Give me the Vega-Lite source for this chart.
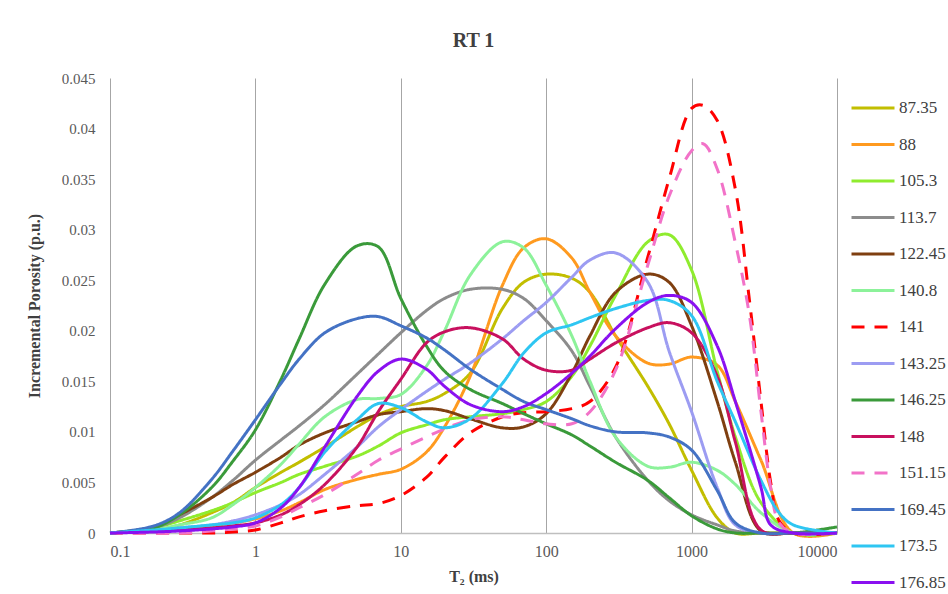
{
"$schema": "https://vega.github.io/schema/vega-lite/v6.json",
"width": 727, "height": 455,
"autosize": {"type": "none"},
"padding": {"left": 110, "top": 78, "right": 111, "bottom": 61},
"background": "white",
"title": {"text": "RT 1", "font": "Liberation Serif", "fontSize": 20, "fontWeight": "bold", "color": "#404040", "offset": 20, "anchor": "middle"},
"config": {"view": {"stroke": null}, "font": "Liberation Serif"},
"data": {"values": [
{"s":"87.35","t":0.1,"v":0},{"s":"87.35","t":0.2,"v":0.0003},{"s":"87.35","t":0.3,"v":0.0008},{"s":"87.35","t":0.5,"v":0.002},{"s":"87.35","t":0.7,"v":0.003},{"s":"87.35","t":1,"v":0.0045},{"s":"87.35","t":1.5,"v":0.006},{"s":"87.35","t":2,"v":0.007},{"s":"87.35","t":3,"v":0.0085},{"s":"87.35","t":5,"v":0.0105},{"s":"87.35","t":7,"v":0.0117},{"s":"87.35","t":10,"v":0.0125},{"s":"87.35","t":15,"v":0.013},{"s":"87.35","t":20,"v":0.0138},{"s":"87.35","t":30,"v":0.0158},{"s":"87.35","t":50,"v":0.0222},{"s":"87.35","t":70,"v":0.0248},{"s":"87.35","t":100,"v":0.0256},{"s":"87.35","t":150,"v":0.0252},{"s":"87.35","t":200,"v":0.0238},{"s":"87.35","t":300,"v":0.0195},{"s":"87.35","t":500,"v":0.0145},{"s":"87.35","t":700,"v":0.0108},{"s":"87.35","t":1000,"v":0.0062},{"s":"87.35","t":1500,"v":0.0015},{"s":"87.35","t":2000,"v":0},{"s":"87.35","t":3000,"v":0},{"s":"87.35","t":5000,"v":0},{"s":"87.35","t":10000,"v":0},
{"s":"88","t":0.1,"v":0},{"s":"88","t":0.2,"v":0.0002},{"s":"88","t":0.3,"v":0.0004},{"s":"88","t":0.5,"v":0.0007},{"s":"88","t":0.7,"v":0.001},{"s":"88","t":1,"v":0.0014},{"s":"88","t":1.5,"v":0.0022},{"s":"88","t":2,"v":0.003},{"s":"88","t":3,"v":0.0043},{"s":"88","t":5,"v":0.0053},{"s":"88","t":7,"v":0.0058},{"s":"88","t":10,"v":0.0063},{"s":"88","t":15,"v":0.008},{"s":"88","t":20,"v":0.0105},{"s":"88","t":30,"v":0.0155},{"s":"88","t":50,"v":0.0245},{"s":"88","t":70,"v":0.0282},{"s":"88","t":100,"v":0.0291},{"s":"88","t":150,"v":0.0272},{"s":"88","t":200,"v":0.0238},{"s":"88","t":300,"v":0.0195},{"s":"88","t":500,"v":0.0168},{"s":"88","t":700,"v":0.0167},{"s":"88","t":1000,"v":0.0174},{"s":"88","t":1500,"v":0.0166},{"s":"88","t":2000,"v":0.013},{"s":"88","t":3000,"v":0.0072},{"s":"88","t":5000,"v":0},{"s":"88","t":10000,"v":0},
{"s":"105.3","t":0.1,"v":0},{"s":"105.3","t":0.2,"v":0.0005},{"s":"105.3","t":0.3,"v":0.0012},{"s":"105.3","t":0.5,"v":0.0022},{"s":"105.3","t":0.7,"v":0.003},{"s":"105.3","t":1,"v":0.004},{"s":"105.3","t":1.5,"v":0.005},{"s":"105.3","t":2,"v":0.0058},{"s":"105.3","t":3,"v":0.0066},{"s":"105.3","t":5,"v":0.0076},{"s":"105.3","t":7,"v":0.0086},{"s":"105.3","t":10,"v":0.0099},{"s":"105.3","t":15,"v":0.0107},{"s":"105.3","t":20,"v":0.0112},{"s":"105.3","t":30,"v":0.0115},{"s":"105.3","t":50,"v":0.0118},{"s":"105.3","t":70,"v":0.0122},{"s":"105.3","t":100,"v":0.013},{"s":"105.3","t":150,"v":0.0155},{"s":"105.3","t":200,"v":0.0185},{"s":"105.3","t":300,"v":0.0235},{"s":"105.3","t":500,"v":0.0288},{"s":"105.3","t":700,"v":0.0295},{"s":"105.3","t":1000,"v":0.026},{"s":"105.3","t":1500,"v":0.016},{"s":"105.3","t":2000,"v":0.0095},{"s":"105.3","t":3000,"v":0.003},{"s":"105.3","t":5000,"v":0},{"s":"105.3","t":10000,"v":0},
{"s":"113.7","t":0.1,"v":0},{"s":"113.7","t":0.2,"v":0.0005},{"s":"113.7","t":0.3,"v":0.0015},{"s":"113.7","t":0.5,"v":0.0035},{"s":"113.7","t":0.7,"v":0.0052},{"s":"113.7","t":1,"v":0.0072},{"s":"113.7","t":1.5,"v":0.0092},{"s":"113.7","t":2,"v":0.0106},{"s":"113.7","t":3,"v":0.0127},{"s":"113.7","t":5,"v":0.0157},{"s":"113.7","t":7,"v":0.0177},{"s":"113.7","t":10,"v":0.0198},{"s":"113.7","t":15,"v":0.022},{"s":"113.7","t":20,"v":0.0232},{"s":"113.7","t":30,"v":0.0241},{"s":"113.7","t":50,"v":0.0241},{"s":"113.7","t":70,"v":0.0232},{"s":"113.7","t":100,"v":0.021},{"s":"113.7","t":150,"v":0.018},{"s":"113.7","t":200,"v":0.0145},{"s":"113.7","t":300,"v":0.0095},{"s":"113.7","t":500,"v":0.0052},{"s":"113.7","t":700,"v":0.0032},{"s":"113.7","t":1000,"v":0.0018},{"s":"113.7","t":1500,"v":0.0008},{"s":"113.7","t":2000,"v":0.0002},{"s":"113.7","t":3000,"v":0},{"s":"113.7","t":5000,"v":0},{"s":"113.7","t":10000,"v":0},
{"s":"122.45","t":0.1,"v":0},{"s":"122.45","t":0.2,"v":0.0006},{"s":"122.45","t":0.3,"v":0.0018},{"s":"122.45","t":0.5,"v":0.0035},{"s":"122.45","t":0.7,"v":0.0048},{"s":"122.45","t":1,"v":0.006},{"s":"122.45","t":1.5,"v":0.0075},{"s":"122.45","t":2,"v":0.0087},{"s":"122.45","t":3,"v":0.0099},{"s":"122.45","t":5,"v":0.011},{"s":"122.45","t":7,"v":0.0117},{"s":"122.45","t":10,"v":0.012},{"s":"122.45","t":15,"v":0.0123},{"s":"122.45","t":20,"v":0.0121},{"s":"122.45","t":30,"v":0.0113},{"s":"122.45","t":50,"v":0.0104},{"s":"122.45","t":70,"v":0.0105},{"s":"122.45","t":100,"v":0.0118},{"s":"122.45","t":150,"v":0.0158},{"s":"122.45","t":200,"v":0.0195},{"s":"122.45","t":300,"v":0.0238},{"s":"122.45","t":500,"v":0.0256},{"s":"122.45","t":700,"v":0.0248},{"s":"122.45","t":1000,"v":0.0205},{"s":"122.45","t":1500,"v":0.013},{"s":"122.45","t":2000,"v":0.007},{"s":"122.45","t":3000,"v":0.0002},{"s":"122.45","t":5000,"v":0},{"s":"122.45","t":10000,"v":0},
{"s":"140.8","t":0.1,"v":0},{"s":"140.8","t":0.2,"v":0.0003},{"s":"140.8","t":0.3,"v":0.0008},{"s":"140.8","t":0.5,"v":0.0015},{"s":"140.8","t":0.7,"v":0.0028},{"s":"140.8","t":1,"v":0.0045},{"s":"140.8","t":1.5,"v":0.0068},{"s":"140.8","t":2,"v":0.0088},{"s":"140.8","t":3,"v":0.0115},{"s":"140.8","t":5,"v":0.0132},{"s":"140.8","t":7,"v":0.0133},{"s":"140.8","t":10,"v":0.0137},{"s":"140.8","t":15,"v":0.0165},{"s":"140.8","t":20,"v":0.02},{"s":"140.8","t":30,"v":0.0255},{"s":"140.8","t":50,"v":0.0288},{"s":"140.8","t":70,"v":0.0282},{"s":"140.8","t":100,"v":0.0245},{"s":"140.8","t":150,"v":0.0195},{"s":"140.8","t":200,"v":0.015},{"s":"140.8","t":300,"v":0.0095},{"s":"140.8","t":500,"v":0.0066},{"s":"140.8","t":700,"v":0.0065},{"s":"140.8","t":1000,"v":0.007},{"s":"140.8","t":1500,"v":0.0062},{"s":"140.8","t":2000,"v":0.0048},{"s":"140.8","t":3000,"v":0.002},{"s":"140.8","t":5000,"v":0},{"s":"140.8","t":10000,"v":0},
{"s":"141","t":0.1,"v":0},{"s":"141","t":0.3,"v":0},{"s":"141","t":0.5,"v":0},{"s":"141","t":0.7,"v":0.0001},{"s":"141","t":1,"v":0.0003},{"s":"141","t":1.5,"v":0.001},{"s":"141","t":2,"v":0.0016},{"s":"141","t":3,"v":0.0022},{"s":"141","t":5,"v":0.0027},{"s":"141","t":7,"v":0.0029},{"s":"141","t":10,"v":0.0037},{"s":"141","t":15,"v":0.0055},{"s":"141","t":20,"v":0.0075},{"s":"141","t":30,"v":0.0099},{"s":"141","t":50,"v":0.0115},{"s":"141","t":70,"v":0.0119},{"s":"141","t":100,"v":0.012},{"s":"141","t":150,"v":0.0123},{"s":"141","t":200,"v":0.013},{"s":"141","t":300,"v":0.0164},{"s":"141","t":500,"v":0.0273},{"s":"141","t":700,"v":0.035},{"s":"141","t":1000,"v":0.042},{"s":"141","t":1200,"v":0.0423},{"s":"141","t":1500,"v":0.0408},{"s":"141","t":2000,"v":0.034},{"s":"141","t":2500,"v":0.023},{"s":"141","t":3000,"v":0.013},{"s":"141","t":3500,"v":0.005},{"s":"141","t":4000,"v":0.0012},{"s":"141","t":5000,"v":0},{"s":"141","t":10000,"v":0},
{"s":"143.25","t":0.1,"v":0},{"s":"143.25","t":0.2,"v":0.0002},{"s":"143.25","t":0.3,"v":0.0005},{"s":"143.25","t":0.5,"v":0.0008},{"s":"143.25","t":0.7,"v":0.0012},{"s":"143.25","t":1,"v":0.0018},{"s":"143.25","t":1.5,"v":0.0028},{"s":"143.25","t":2,"v":0.0038},{"s":"143.25","t":3,"v":0.0058},{"s":"143.25","t":5,"v":0.0085},{"s":"143.25","t":7,"v":0.0105},{"s":"143.25","t":10,"v":0.0122},{"s":"143.25","t":15,"v":0.014},{"s":"143.25","t":20,"v":0.0152},{"s":"143.25","t":30,"v":0.0168},{"s":"143.25","t":50,"v":0.0192},{"s":"143.25","t":70,"v":0.021},{"s":"143.25","t":100,"v":0.0228},{"s":"143.25","t":150,"v":0.0253},{"s":"143.25","t":200,"v":0.027},{"s":"143.25","t":300,"v":0.0277},{"s":"143.25","t":500,"v":0.0248},{"s":"143.25","t":700,"v":0.018},{"s":"143.25","t":1000,"v":0.012},{"s":"143.25","t":1500,"v":0.0045},{"s":"143.25","t":2000,"v":0.0008},{"s":"143.25","t":3000,"v":0},{"s":"143.25","t":5000,"v":0},{"s":"143.25","t":10000,"v":0},
{"s":"146.25","t":0.1,"v":0},{"s":"146.25","t":0.2,"v":0.0005},{"s":"146.25","t":0.3,"v":0.0018},{"s":"146.25","t":0.5,"v":0.0045},{"s":"146.25","t":0.7,"v":0.0071},{"s":"146.25","t":1,"v":0.0102},{"s":"146.25","t":1.5,"v":0.0152},{"s":"146.25","t":2,"v":0.0192},{"s":"146.25","t":3,"v":0.0246},{"s":"146.25","t":5,"v":0.0284},{"s":"146.25","t":7,"v":0.0283},{"s":"146.25","t":10,"v":0.0232},{"s":"146.25","t":15,"v":0.0185},{"s":"146.25","t":20,"v":0.016},{"s":"146.25","t":30,"v":0.0142},{"s":"146.25","t":50,"v":0.0128},{"s":"146.25","t":70,"v":0.0118},{"s":"146.25","t":100,"v":0.0108},{"s":"146.25","t":150,"v":0.0097},{"s":"146.25","t":200,"v":0.0086},{"s":"146.25","t":300,"v":0.007},{"s":"146.25","t":500,"v":0.0052},{"s":"146.25","t":700,"v":0.0035},{"s":"146.25","t":1000,"v":0.0017},{"s":"146.25","t":1500,"v":0.0004},{"s":"146.25","t":2000,"v":0},{"s":"146.25","t":3000,"v":0},{"s":"146.25","t":5000,"v":0},{"s":"146.25","t":10000,"v":0.0006},
{"s":"148","t":0.1,"v":0},{"s":"148","t":0.2,"v":0.0002},{"s":"148","t":0.3,"v":0.0003},{"s":"148","t":0.5,"v":0.0005},{"s":"148","t":0.7,"v":0.0007},{"s":"148","t":1,"v":0.001},{"s":"148","t":1.5,"v":0.0018},{"s":"148","t":2,"v":0.0028},{"s":"148","t":3,"v":0.0048},{"s":"148","t":5,"v":0.0085},{"s":"148","t":7,"v":0.012},{"s":"148","t":10,"v":0.0152},{"s":"148","t":15,"v":0.0188},{"s":"148","t":20,"v":0.0199},{"s":"148","t":30,"v":0.0203},{"s":"148","t":50,"v":0.0192},{"s":"148","t":70,"v":0.0172},{"s":"148","t":100,"v":0.0161},{"s":"148","t":150,"v":0.0161},{"s":"148","t":200,"v":0.0172},{"s":"148","t":300,"v":0.0188},{"s":"148","t":500,"v":0.0203},{"s":"148","t":700,"v":0.0208},{"s":"148","t":1000,"v":0.0198},{"s":"148","t":1500,"v":0.0155},{"s":"148","t":2000,"v":0.009},{"s":"148","t":3000,"v":0.0003},{"s":"148","t":5000,"v":0},{"s":"148","t":10000,"v":0},
{"s":"151.15","t":0.1,"v":0},{"s":"151.15","t":0.3,"v":0},{"s":"151.15","t":0.5,"v":0.0002},{"s":"151.15","t":0.7,"v":0.0004},{"s":"151.15","t":1,"v":0.0007},{"s":"151.15","t":1.5,"v":0.0016},{"s":"151.15","t":2,"v":0.0025},{"s":"151.15","t":3,"v":0.0038},{"s":"151.15","t":5,"v":0.0058},{"s":"151.15","t":7,"v":0.0072},{"s":"151.15","t":10,"v":0.0083},{"s":"151.15","t":15,"v":0.0095},{"s":"151.15","t":20,"v":0.0103},{"s":"151.15","t":30,"v":0.0112},{"s":"151.15","t":50,"v":0.0115},{"s":"151.15","t":70,"v":0.0112},{"s":"151.15","t":100,"v":0.0108},{"s":"151.15","t":150,"v":0.0108},{"s":"151.15","t":200,"v":0.012},{"s":"151.15","t":300,"v":0.0161},{"s":"151.15","t":500,"v":0.0265},{"s":"151.15","t":700,"v":0.0333},{"s":"151.15","t":1000,"v":0.0378},{"s":"151.15","t":1200,"v":0.0385},{"s":"151.15","t":1500,"v":0.036},{"s":"151.15","t":2000,"v":0.0287},{"s":"151.15","t":2500,"v":0.0215},{"s":"151.15","t":3000,"v":0.012},{"s":"151.15","t":3500,"v":0.0045},{"s":"151.15","t":4000,"v":0.001},{"s":"151.15","t":5000,"v":0},{"s":"151.15","t":10000,"v":0},
{"s":"169.45","t":0.1,"v":0},{"s":"169.45","t":0.2,"v":0.0007},{"s":"169.45","t":0.3,"v":0.002},{"s":"169.45","t":0.5,"v":0.0053},{"s":"169.45","t":0.7,"v":0.0081},{"s":"169.45","t":1,"v":0.0112},{"s":"169.45","t":1.5,"v":0.0148},{"s":"169.45","t":2,"v":0.0172},{"s":"169.45","t":3,"v":0.0198},{"s":"169.45","t":5,"v":0.0212},{"s":"169.45","t":7,"v":0.0214},{"s":"169.45","t":10,"v":0.0205},{"s":"169.45","t":15,"v":0.0193},{"s":"169.45","t":20,"v":0.0181},{"s":"169.45","t":30,"v":0.0162},{"s":"169.45","t":50,"v":0.0142},{"s":"169.45","t":70,"v":0.013},{"s":"169.45","t":100,"v":0.0122},{"s":"169.45","t":150,"v":0.0113},{"s":"169.45","t":200,"v":0.0106},{"s":"169.45","t":300,"v":0.01},{"s":"169.45","t":500,"v":0.0099},{"s":"169.45","t":700,"v":0.0095},{"s":"169.45","t":1000,"v":0.0082},{"s":"169.45","t":1500,"v":0.0042},{"s":"169.45","t":2000,"v":0.001},{"s":"169.45","t":3000,"v":0},{"s":"169.45","t":5000,"v":0},{"s":"169.45","t":10000,"v":0},
{"s":"173.5","t":0.1,"v":0},{"s":"173.5","t":0.2,"v":0.0003},{"s":"173.5","t":0.3,"v":0.0005},{"s":"173.5","t":0.5,"v":0.0008},{"s":"173.5","t":0.7,"v":0.001},{"s":"173.5","t":1,"v":0.0015},{"s":"173.5","t":1.5,"v":0.0028},{"s":"173.5","t":2,"v":0.0045},{"s":"173.5","t":3,"v":0.008},{"s":"173.5","t":5,"v":0.0112},{"s":"173.5","t":7,"v":0.0128},{"s":"173.5","t":10,"v":0.0124},{"s":"173.5","t":15,"v":0.011},{"s":"173.5","t":20,"v":0.0104},{"s":"173.5","t":30,"v":0.0113},{"s":"173.5","t":50,"v":0.0148},{"s":"173.5","t":70,"v":0.0178},{"s":"173.5","t":100,"v":0.0198},{"s":"173.5","t":150,"v":0.0206},{"s":"173.5","t":200,"v":0.0213},{"s":"173.5","t":300,"v":0.0222},{"s":"173.5","t":500,"v":0.023},{"s":"173.5","t":700,"v":0.023},{"s":"173.5","t":1000,"v":0.0215},{"s":"173.5","t":1500,"v":0.015},{"s":"173.5","t":2000,"v":0.011},{"s":"173.5","t":3000,"v":0.0052},{"s":"173.5","t":4000,"v":0.002},{"s":"173.5","t":5000,"v":0.0008},{"s":"173.5","t":10000,"v":0},
{"s":"176.85","t":0.1,"v":0},{"s":"176.85","t":0.2,"v":0.0001},{"s":"176.85","t":0.3,"v":0.0002},{"s":"176.85","t":0.5,"v":0.0004},{"s":"176.85","t":0.7,"v":0.0006},{"s":"176.85","t":1,"v":0.001},{"s":"176.85","t":1.5,"v":0.0025},{"s":"176.85","t":2,"v":0.0045},{"s":"176.85","t":3,"v":0.0085},{"s":"176.85","t":5,"v":0.0135},{"s":"176.85","t":7,"v":0.016},{"s":"176.85","t":10,"v":0.0172},{"s":"176.85","t":15,"v":0.0162},{"s":"176.85","t":20,"v":0.0145},{"s":"176.85","t":30,"v":0.0127},{"s":"176.85","t":50,"v":0.012},{"s":"176.85","t":70,"v":0.0125},{"s":"176.85","t":100,"v":0.0138},{"s":"176.85","t":150,"v":0.0158},{"s":"176.85","t":200,"v":0.0175},{"s":"176.85","t":300,"v":0.0202},{"s":"176.85","t":500,"v":0.0228},{"s":"176.85","t":700,"v":0.0235},{"s":"176.85","t":1000,"v":0.0228},{"s":"176.85","t":1500,"v":0.0185},{"s":"176.85","t":2000,"v":0.013},{"s":"176.85","t":3000,"v":0.0045},{"s":"176.85","t":3500,"v":0.0008},{"s":"176.85","t":5000,"v":0},{"s":"176.85","t":10000,"v":0}
]},
"mark": {"type": "line", "interpolate": "catmull-rom"},
"encoding": {
  "x": {"field": "t", "type": "quantitative",
    "scale": {"type": "log", "domain": [0.1, 10000]},
    "axis": {"values": [0.1, 1, 10, 100, 1000, 10000], "labelExpr": "datum.value < 1 ? '0.1' : format(datum.value, 'd')", "grid": true, "gridColor": "#A6A6A6", "gridWidth": 1, "domainColor": "#BFBFBF", "domainWidth": 1.5, "ticks": false, "labelPadding": 10, "labelFont": "Liberation Serif", "labelFontSize": 16, "labelColor": "#595959", "title": "T₂ (ms)", "titleFont": "Liberation Serif", "titleFontSize": 16, "titleFontWeight": "bold", "titleColor": "#404040", "titlePadding": 9}},
  "y": {"field": "v", "type": "quantitative",
    "scale": {"domain": [0, 0.045], "nice": false},
    "axis": {"values": [0, 0.005, 0.01, 0.015, 0.02, 0.025, 0.03, 0.035, 0.04, 0.045], "format": "~g", "grid": false, "domain": false, "ticks": false, "labelPadding": 15, "labelFont": "Liberation Serif", "labelFontSize": 15, "labelColor": "#595959", "title": "Incremental Porosity (p.u.)", "titleFont": "Liberation Serif", "titleFontSize": 16, "titleFontWeight": "bold", "titleColor": "#404040", "titlePadding": 19}},
  "color": {"field": "s", "type": "nominal",
    "scale": {"domain": ["87.35","88","105.3","113.7","122.45","140.8","141","143.25","146.25","148","151.15","169.45","173.5","176.85"],
      "range": ["#C2BE00","#FF9A1F","#8FEC2E","#8C8C8C","#7F3F10","#8CF29A","#FF0000","#9C9CF2","#3A9A3A","#C8105E","#F272C8","#4472C4","#2EC6F2","#8A10F0"]},
    "legend": {"orient": "none", "legendX": 740, "legendY": 7, "title": null, "symbolType": "stroke", "symbolSize": 1849, "symbolStrokeWidth": 4, "labelFont": "Liberation Serif", "labelFontSize": 17, "labelColor": "#404040", "rowPadding": 5.5, "labelOffset": 3}},
  "strokeDash": {"field": "s", "type": "nominal",
    "scale": {"domain": ["87.35","88","105.3","113.7","122.45","140.8","141","143.25","146.25","148","151.15","169.45","173.5","176.85"],
      "range": [[1,0],[1,0],[1,0],[1,0],[1,0],[1,0],[13,10],[1,0],[1,0],[1,0],[13,10],[1,0],[1,0],[1,0]]}},
  "strokeWidth": {"field": "s", "type": "nominal",
    "scale": {"domain": ["87.35","88","105.3","113.7","122.45","140.8","141","143.25","146.25","148","151.15","169.45","173.5","176.85"],
      "range": [3,3,3,3,3,3,4,3,3.5,3,4,3.5,3,3.5]}, "legend": null}
}
}
